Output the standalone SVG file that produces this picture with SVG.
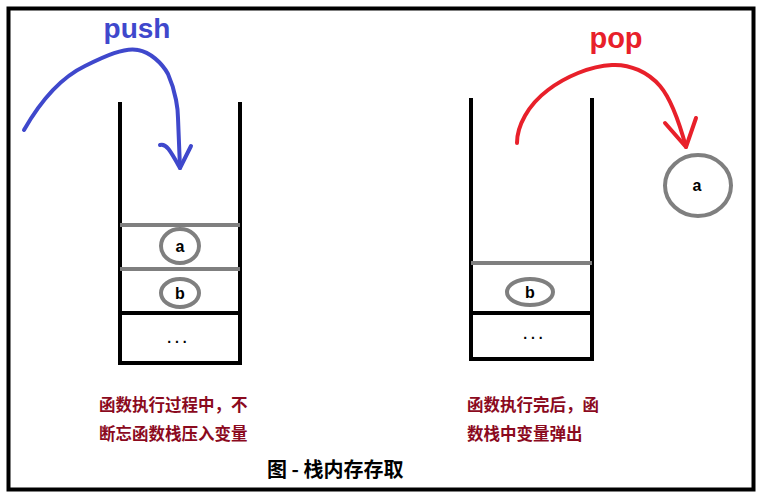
<svg xmlns="http://www.w3.org/2000/svg" width="761" height="498" viewBox="0 0 761 498">
<style>
.wall{stroke:#000;stroke-width:4;fill:none;stroke-linecap:square}
.gray{stroke:#7f7f7f;stroke-width:4;fill:none}
.cell{stroke:#7f7f7f;stroke-width:4;fill:#fff}
.lbl{font-family:"Liberation Sans",Arial,sans-serif;font-weight:bold;font-size:16px;fill:#000;text-anchor:middle}
.dots{font-family:"Liberation Sans",Arial,sans-serif;font-weight:bold;font-size:14px;fill:#000;text-anchor:middle}
.cap{font-family:"Noto Sans CJK SC","Liberation Sans",sans-serif;font-weight:bold;font-size:16.5px;fill:#8b0a1e}
.title{font-family:"Noto Sans CJK SC","Liberation Sans",sans-serif;font-weight:bold;font-size:20px;fill:#000}
.arrow{fill:none;stroke-width:4;stroke-linecap:round;stroke-linejoin:round}
</style>
<rect x="0" y="0" width="761" height="498" fill="#fff"/>
<rect x="8.5" y="8.5" width="745" height="481" fill="none" stroke="#000" stroke-width="4"/>

<g id="stack-push">
  <path class="wall" d="M120,104 V363 H240 V104"/>
  <line class="gray" x1="120" y1="225" x2="240" y2="225"/>
  <line class="gray" x1="120" y1="269" x2="240" y2="269"/>
  <line class="wall" x1="120" y1="313" x2="240" y2="313"/>
  <text class="dots" x="177" y="343">. . .</text>
</g>
<g id="push-a">
  <ellipse class="cell" cx="180" cy="246" rx="19" ry="17"/>
  <text class="lbl" x="180" y="252">a</text>
</g>
<g id="push-b">
  <ellipse class="cell" cx="180" cy="293" rx="19" ry="14"/>
  <text class="lbl" x="180" y="299">b</text>
</g>

<g id="stack-pop">
  <path class="wall" d="M471,100 V359 H592 V100"/>
  <line class="gray" x1="471" y1="263" x2="592" y2="263"/>
  <line class="wall" x1="471" y1="313" x2="592" y2="313"/>
  <text class="dots" x="533" y="339">. . .</text>
</g>
<g id="pop-b">
  <ellipse class="cell" cx="530" cy="292" rx="23" ry="13"/>
  <text class="lbl" x="530" y="298">b</text>
</g>
<g id="popped-a">
  <ellipse class="cell" cx="698" cy="185.5" rx="33" ry="30.5"/>
  <text class="lbl" x="697" y="191">a</text>
</g>

<g id="connectors">
  <path class="arrow" stroke="#3f48cc" d="M24,130 C40,102 60,78 85,66 C105,56 125,47 138,50 C150,52 162,63 168,74 C176,92 178,110 178,118 L180,168"/>
  <path class="arrow" stroke="#3f48cc" d="M160,145 C166,143 170,150 180,168 L191,146"/>
  <path class="arrow" stroke="#e8202a" d="M517,143 C517,126 528,105 548,90 C565,77 590,66 612,65 C630,64 648,72 660,86 C672,100 680,125 686,147"/>
  <path class="arrow" stroke="#e8202a" d="M665,123 L686,147 L696,118"/>
</g>

<g id="labels">
  <text x="137" y="38" font-family="Liberation Sans,Arial,sans-serif" font-weight="bold" font-size="28" fill="#3f48cc" text-anchor="middle">push</text>
  <text x="616" y="48" font-family="Liberation Sans,Arial,sans-serif" font-weight="bold" font-size="29" fill="#e8202a" text-anchor="middle">pop</text>
  <text class="cap" x="99" y="411">函数执行过程中，不</text>
  <text class="cap" x="99" y="440">断忘函数栈压入变量</text>
  <text class="cap" x="467" y="411">函数执行完后，函</text>
  <text class="cap" x="467" y="440">数栈中变量弹出</text>
  <text class="title" x="267" y="477">图 - 栈内存存取</text>
</g>
</svg>
